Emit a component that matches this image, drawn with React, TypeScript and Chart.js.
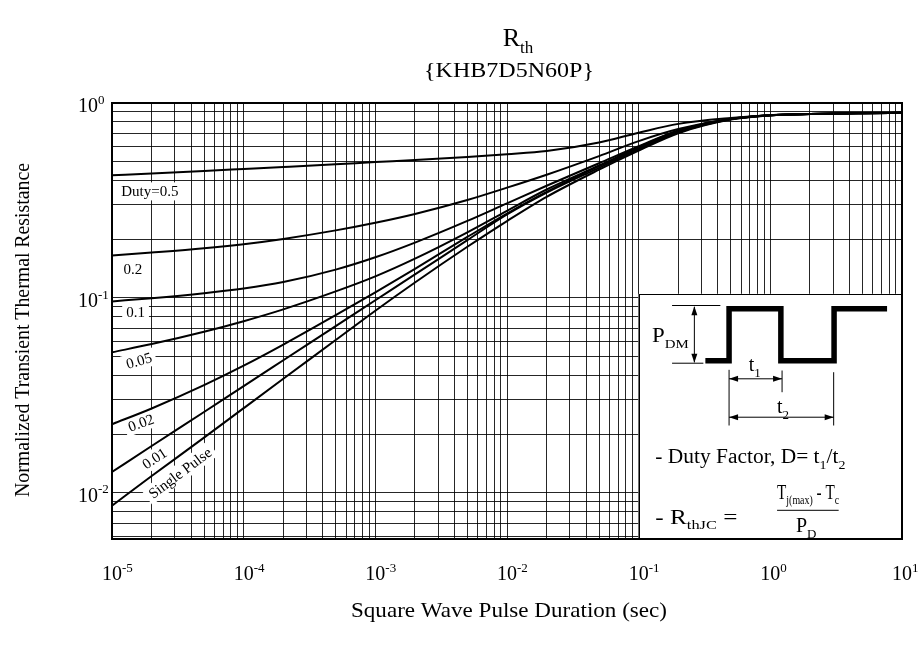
import React, { useEffect, useRef } from "react";
import { Chart, registerables } from "chart.js";

Chart.register(...registerables);

const FONT = '"Liberation Serif", "Times New Roman", Times, serif';

// ---- data ----
const pulseDuration = [1e-5, 2e-5, 5e-5, 1e-4, 2e-4, 5e-4, 1e-3, 2e-3, 5e-3, 1e-2, 2e-2, 5e-2, 1e-1, 2e-1, 5e-1, 1, 2, 5, 10];
const duty05 = [0.426, 0.435, 0.448, 0.4587, 0.4697, 0.485, 0.4976, 0.5098, 0.5288, 0.5456, 0.5668, 0.627, 0.704, 0.7815, 0.838, 0.866, 0.879, 0.888, 0.892];
const duty02 = [0.165, 0.1708, 0.1797, 0.1887, 0.2008, 0.2221, 0.243, 0.2697, 0.318, 0.368, 0.4288, 0.5343, 0.6375, 0.735, 0.83, 0.865, 0.878, 0.887, 0.891];
const duty01 = [0.096, 0.0997, 0.1058, 0.1118, 0.1206, 0.1397, 0.1616, 0.1922, 0.2483, 0.3057, 0.3763, 0.4907, 0.6, 0.724, 0.829, 0.865, 0.878, 0.887, 0.891];
const duty005 = [0.0526, 0.058, 0.0671, 0.076, 0.0874, 0.108, 0.129, 0.159, 0.217, 0.28, 0.36, 0.478, 0.593, 0.72, 0.827, 0.865, 0.878, 0.887, 0.891];
const duty002 = [0.0225, 0.0271, 0.0357, 0.0449, 0.0576, 0.0816, 0.1069, 0.141, 0.2055, 0.271, 0.35, 0.474, 0.583, 0.713, 0.826, 0.864, 0.878, 0.887, 0.891];
const duty001 = [0.0128, 0.0174, 0.026, 0.0353, 0.0479, 0.0717, 0.0973, 0.132, 0.198, 0.268, 0.347, 0.465, 0.576, 0.705, 0.824, 0.864, 0.878, 0.887, 0.891];
const singlePulse = [0.0086, 0.0122, 0.0192, 0.0272, 0.0385, 0.0608, 0.086, 0.12, 0.183, 0.248, 0.33, 0.455, 0.57, 0.7, 0.822, 0.864, 0.878, 0.887, 0.891];

const seriesNames = ["Duty=0.5", "0.2", "0.1", "0.05", "0.02", "0.01", "Single Pulse"];
const seriesValues = [duty05, duty02, duty01, duty005, duty002, duty001, singlePulse];

const xTickExponents = ["-5", "-4", "-3", "-2", "-1", "0", "1"];
const yTickExponents = ["-2", "-1", "0"];
const xRange = [1e-5, 10];
const yRange = [0.0058, 1];

// curve label anchors (in data coordinates) and rotation in degrees
const curveLabels = [
  { text: "Duty=0.5", t: 1.94e-5, v: 0.352, angle: 0 },
  { text: "0.2", t: 1.44e-5, v: 0.14, angle: 0 },
  { text: "0.1", t: 1.51e-5, v: 0.0852, angle: 0 },
  { text: "0.05", t: 1.6e-5, v: 0.0477, angle: -16 },
  { text: "0.02", t: 1.66e-5, v: 0.0229, angle: -20 },
  { text: "0.01", t: 2.1e-5, v: 0.01504, angle: -33 },
  { text: "Single Pulse", t: 3.28e-5, v: 0.01267, angle: -37 },
];
const insetCorner = { t: 0.1, v: 0.105 };

type Seg = { t: string; s?: "sub" | "sup" };

function segFont(size: number, s?: string) {
  return `${s ? Math.round(size * 0.65) : size}px ${FONT}`;
}
function richWidth(ctx: CanvasRenderingContext2D, segs: Seg[], size: number) {
  let w = 0;
  for (const g of segs) {
    ctx.font = segFont(size, g.s);
    w += ctx.measureText(g.t).width;
  }
  return w;
}
function drawRich(
  ctx: CanvasRenderingContext2D,
  segs: Seg[],
  x: number,
  y: number,
  size: number,
  align: "left" | "center" | "right",
  fitW?: number
) {
  const w = richWidth(ctx, segs, size);
  const sx = fitW ? fitW / w : 1;
  ctx.save();
  ctx.translate(x, y);
  ctx.scale(sx, 1);
  let cx = align === "left" ? 0 : align === "center" ? -w / 2 : -w;
  ctx.textAlign = "left";
  ctx.textBaseline = "alphabetic";
  ctx.fillStyle = "#000";
  for (const g of segs) {
    ctx.font = segFont(size, g.s);
    const dy = g.s === "sub" ? size * 0.27 : g.s === "sup" ? -size * 0.42 : 0;
    ctx.fillText(g.t, cx, dy);
    cx += ctx.measureText(g.t).width;
  }
  ctx.restore();
}

function logGrid(min: number, max: number) {
  const out: number[] = [];
  for (let e = Math.floor(Math.log10(min)); e <= Math.ceil(Math.log10(max)); e++) {
    for (let m = 1; m <= 9; m++) {
      const v = m * Math.pow(10, e);
      if (v >= min * 0.9999 && v <= max * 1.0001) out.push(v);
    }
  }
  return out;
}

function arrowHead(ctx: CanvasRenderingContext2D, x: number, y: number, dir: string) {
  const L = 9, H = 3;
  ctx.beginPath();
  ctx.moveTo(x, y);
  if (dir === "up") { ctx.lineTo(x - H, y + L); ctx.lineTo(x + H, y + L); }
  if (dir === "down") { ctx.lineTo(x - H, y - L); ctx.lineTo(x + H, y - L); }
  if (dir === "left") { ctx.lineTo(x + L, y - H); ctx.lineTo(x + L, y + H); }
  if (dir === "right") { ctx.lineTo(x - L, y - H); ctx.lineTo(x - L, y + H); }
  ctx.closePath();
  ctx.fill();
}
function line(ctx: CanvasRenderingContext2D, x1: number, y1: number, x2: number, y2: number) {
  ctx.beginPath();
  ctx.moveTo(x1, y1);
  ctx.lineTo(x2, y2);
  ctx.stroke();
}

const decorPlugin = {
  id: "decor",
  beforeDatasetsDraw(chart: any) {
    const ctx: CanvasRenderingContext2D = chart.ctx;
    const xs = chart.scales.x, ys = chart.scales.y, area = chart.chartArea;
    ctx.save();
    // inset box
    const ix = xs.getPixelForValue(insetCorner.t);
    const iy = ys.getPixelForValue(insetCorner.v);
    ctx.fillStyle = "#fff";
    ctx.fillRect(ix, iy, area.right - ix, area.bottom - iy);
    ctx.strokeStyle = "#000";
    ctx.lineWidth = 1;
    ctx.strokeRect(Math.round(ix) + 0.5, Math.round(iy) + 0.5, area.right - Math.round(ix), area.bottom - Math.round(iy));

    // waveform
    ctx.lineWidth = 5.5;
    ctx.lineJoin = "miter";
    ctx.beginPath();
    const wf = [[66.7, 67], [90.4, 67], [90.4, 15], [142.2, 15], [142.2, 67], [195.4, 67], [195.4, 15], [248.4, 15]];
    wf.forEach(([dx, dy], i) => (i ? ctx.lineTo(ix + dx, iy + dy) : ctx.moveTo(ix + dx, iy + dy)));
    ctx.stroke();

    // dimension lines
    ctx.lineWidth = 1;
    ctx.fillStyle = "#000";
    line(ctx, ix + 33.4, iy + 11.7, ix + 81.7, iy + 11.7);
    line(ctx, ix + 33.4, iy + 69.4, ix + 64.7, iy + 69.4);
    line(ctx, ix + 55.7, iy + 13, ix + 55.7, iy + 68.5);
    arrowHead(ctx, ix + 55.7, iy + 12.5, "up");
    arrowHead(ctx, ix + 55.7, iy + 69, "down");

    line(ctx, ix + 90.4, iy + 76, ix + 90.4, iy + 131.7);
    line(ctx, ix + 143.4, iy + 76.7, ix + 143.4, iy + 98.4);
    line(ctx, ix + 195, iy + 78.4, ix + 195, iy + 131.7);
    line(ctx, ix + 90.4, iy + 85, ix + 143.4, iy + 85);
    arrowHead(ctx, ix + 90.4, iy + 85, "left");
    arrowHead(ctx, ix + 143.4, iy + 85, "right");
    line(ctx, ix + 90.4, iy + 123.4, ix + 195, iy + 123.4);
    arrowHead(ctx, ix + 90.4, iy + 123.4, "left");
    arrowHead(ctx, ix + 195, iy + 123.4, "right");

    // inset text
    drawRich(ctx, [{ t: "P" }, { t: "DM", s: "sub" }], ix + 13.4, iy + 48.4, 20, "left", 36.7);
    drawRich(ctx, [{ t: "t" }, { t: "1", s: "sub" }], ix + 110, iy + 77.4, 20, "left");
    drawRich(ctx, [{ t: "t" }, { t: "2", s: "sub" }], ix + 138.4, iy + 119.4, 20, "left");
    drawRich(ctx, [{ t: "- Duty Factor, D= t" }, { t: "1", s: "sub" }, { t: "/t" }, { t: "2", s: "sub" }], ix + 16.7, iy + 169.4, 20, "left", 190);
    drawRich(ctx, [{ t: "- R" }, { t: "thJC", s: "sub" }, { t: " =" }], ix + 16.7, iy + 230, 20, "left", 82);
    drawRich(ctx, [{ t: "T" }, { t: "j(max)", s: "sub" }, { t: " - T" }, { t: "c", s: "sub" }], ix + 138.4, iy + 205, 20, "left", 62);
    line(ctx, ix + 138.4, iy + 216.5, ix + 200, iy + 216.5);
    drawRich(ctx, [{ t: "P" }, { t: "D", s: "sub" }], ix + 167.5, iy + 238.4, 20, "center");

    // curve labels with white backgrounds
    for (const lab of curveLabels) {
      const px = xs.getPixelForValue(lab.t), py = ys.getPixelForValue(lab.v);
      ctx.save();
      ctx.translate(px, py);
      ctx.rotate((lab.angle * Math.PI) / 180);
      ctx.font = `15px ${FONT}`;
      const w = ctx.measureText(lab.text).width;
      ctx.fillStyle = "#fff";
      ctx.fillRect(-w / 2 - 4, -9, w + 8, 18);
      ctx.fillStyle = "#000";
      ctx.textAlign = "center";
      ctx.textBaseline = "alphabetic";
      ctx.fillText(lab.text, 0, 5);
      ctx.restore();
    }
    ctx.restore();
  },
  afterDraw(chart: any) {
    const ctx: CanvasRenderingContext2D = chart.ctx;
    const xs = chart.scales.x, ys = chart.scales.y, area = chart.chartArea;
    ctx.save();
    ctx.strokeStyle = "#000";
    ctx.lineWidth = 2;
    ctx.strokeRect(area.left, area.top, area.right - area.left, area.bottom - area.top);

    // tick labels
    ctx.fillStyle = "#000";
    ctx.font = `20px ${FONT}`;
    const w10 = ctx.measureText("10").width;
    for (const e of xTickExponents) {
      const px = xs.getPixelForValue(Math.pow(10, Number(e)));
      drawRich(ctx, [{ t: "10" }, { t: e, s: "sup" }], px - w10 / 2, 580, 20, "left");
    }
    for (const e of yTickExponents) {
      const py = ys.getPixelForValue(Math.pow(10, Number(e)));
      drawRich(ctx, [{ t: "10" }, { t: e, s: "sup" }], 98 - w10, py + 9, 20, "left");
    }

    // titles
    drawRich(ctx, [{ t: "R" }, { t: "th", s: "sub" }], 518, 46, 26, "center");
    drawRich(ctx, [{ t: "{KHB7D5N60P}" }], 509, 77, 21, "center", 170);
    drawRich(ctx, [{ t: "Square Wave Pulse Duration (sec)" }], 509, 617, 22, "center", 316);
    ctx.save();
    ctx.translate(29, 330);
    ctx.rotate(-Math.PI / 2);
    drawRich(ctx, [{ t: "Normalized Transient Thermal Resistance" }], 0, 0, 21, "center", 334);
    ctx.restore();
    ctx.restore();
  },
};

export default function App() {
  const ref = useRef<HTMLCanvasElement>(null);
  useEffect(() => {
    const canvas = ref.current;
    if (!canvas) return;
    const xGrid = logGrid(xRange[0], xRange[1]);
    const yGrid = logGrid(yRange[0], yRange[1]);
    const chart = new Chart(canvas, {
      type: "line",
      data: {
        datasets: seriesValues.map((vals, k) => ({
          label: seriesNames[k],
          data: pulseDuration.map((t, i) => ({ x: t, y: vals[i] })),
          borderColor: "#000",
          borderWidth: 2,
          pointRadius: 0,
          fill: false,
          cubicInterpolationMode: "monotone" as const,
        })),
      },
      options: {
        responsive: false,
        maintainAspectRatio: false,
        animation: false,
        events: [],
        layout: { autoPadding: false, padding: { left: 112, right: 21, top: 103, bottom: 116 } },
        plugins: { legend: { display: false }, tooltip: { enabled: false }, title: { display: false } },
        scales: {
          x: {
            type: "logarithmic",
            min: xRange[0],
            max: xRange[1],
            ticks: { display: false },
            grid: { color: "rgba(0,0,0,0.85)", lineWidth: 1, drawTicks: false },
            border: { display: false },
            afterBuildTicks: (s: any) => {
              s.ticks = xGrid.map((v) => ({ value: v }));
            },
          },
          y: {
            type: "logarithmic",
            min: yRange[0],
            max: yRange[1],
            ticks: { display: false },
            grid: { color: "rgba(0,0,0,0.85)", lineWidth: 1, drawTicks: false },
            border: { display: false },
            afterBuildTicks: (s: any) => {
              s.ticks = yGrid.map((v) => ({ value: v }));
            },
          },
        },
      } as any,
      plugins: [decorPlugin],
    });
    return () => chart.destroy();
  }, []);
  return (
    <div style={{ position: "absolute", left: 0, top: 0, width: 923, height: 655, background: "#fff" }}>
      <canvas ref={ref} width={923} height={655} style={{ display: "block", width: 923, height: 655 }} />
    </div>
  );
}
